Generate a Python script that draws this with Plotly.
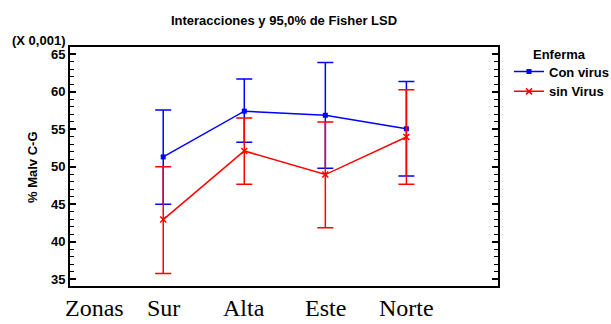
import plotly.graph_objects as go

zones = ["Sur", "Alta", "Este", "Norte"]
axis_name = "Zonas"
con_mean = [51.3, 57.4, 56.85, 55.05]
con_upper = [57.55, 61.7, 63.9, 61.35]
con_lower = [45.0, 53.25, 49.8, 48.75]
sin_mean = [42.95, 52.1, 48.95, 53.95]
sin_upper = [50.0, 56.5, 55.95, 60.25]
sin_lower = [35.75, 47.65, 41.85, 47.65]
yticks = [35, 40, 45, 50, 55, 60, 65]

xpos = list(range(len(zones)))

def err(mean, up, lo):
    return dict(type="data", symmetric=False,
                array=[u - m for u, m in zip(up, mean)],
                arrayminus=[m - l for m, l in zip(mean, lo)])

fig = go.Figure()
fig.add_trace(go.Scatter(
    x=xpos, y=con_mean, name="Con virus", mode="lines+markers",
    line=dict(color="#0000FF", width=1.5),
    marker=dict(symbol="square", size=5, color="#0000FF"),
    error_y=dict(**err(con_mean, con_upper, con_lower), color="#0000FF", thickness=1.5, width=8),
))
fig.add_trace(go.Scatter(
    x=xpos, y=sin_mean, name="sin Virus", mode="lines+markers",
    line=dict(color="#FF0000", width=1.5),
    marker=dict(symbol="x-thin", size=6, color="#FF0000", line=dict(color="#FF0000", width=1.5)),
    error_y=dict(**err(sin_mean, sin_upper, sin_lower), color="#FF0000", thickness=1.5, width=8),
))

W, H = 611, 324
L, R, T, B = 70, 113, 47, 38
pw = W - L - R
ph = H - T - B

def px(xp):
    return (xp - L) / pw

def py(yp):
    return (H - B - yp) / ph

SANS = "Liberation Sans, Arial, Helvetica"
SERIF = "Liberation Serif, Times New Roman"

annotations = [
    dict(text="(X 0,001)", x=px(10), y=py(40), xref="paper", yref="paper",
         xanchor="left", yanchor="middle", showarrow=False,
         font=dict(family=SANS, size=13, color="black", weight="bold")),
    dict(text="% Malv C-G", x=px(32), y=py(167), xref="paper", yref="paper",
         xanchor="center", yanchor="middle", showarrow=False, textangle=-90,
         font=dict(family=SANS, size=13, color="black", weight="bold")),
    dict(text="Enferma", x=px(531), y=py(55), xref="paper", yref="paper",
         xanchor="left", yanchor="middle", showarrow=False,
         font=dict(family=SANS, size=13, color="black", weight="bold")),
    dict(text=axis_name, x=px(94.5), y=py(308), xref="paper", yref="paper",
         xanchor="center", yanchor="middle", showarrow=False,
         font=dict(family=SERIF, size=24, color="black")),
]
for lbl, xv in zip(zones, xpos):
    annotations.append(dict(text=lbl, x=xv, y=py(308), xref="x", yref="paper",
                            xanchor="center", yanchor="middle", showarrow=False,
                            font=dict(family=SERIF, size=24, color="black")))

fig.update_layout(
    width=W, height=H,
    margin=dict(l=L, r=R, t=T, b=B, autoexpand=False),
    paper_bgcolor="white", plot_bgcolor="white",
    title=dict(text="<b>Interacciones y 95,0% de Fisher LSD</b>", x=0.5, xref="paper", xanchor="center",
               y=1 - 20 / H, yanchor="middle",
               font=dict(family=SANS, size=13, color="black")),
    xaxis=dict(range=[-1.15, 4.13], showgrid=False, zeroline=False, showticklabels=False,
               ticks="", showline=True, linecolor="black", linewidth=2, mirror=True),
    yaxis=dict(range=[34.1, 65.95], tickvals=yticks, showgrid=False, zeroline=False,
               ticks="inside", ticklen=6, tickwidth=1.5, tickcolor="black",
               showline=True, linecolor="black", linewidth=2, mirror="ticks",
               minor=dict(ticks="inside", dtick=1, ticklen=4, tickwidth=1, tickcolor="black"),
               tickfont=dict(family=SANS, size=13, color="black", weight="bold")),
    legend=dict(x=px(509), y=py(56.5), xanchor="left", yanchor="top",
                font=dict(family=SANS, size=13, color="black", weight="bold"),
                itemwidth=30, tracegroupgap=0, bgcolor="rgba(0,0,0,0)"),
    annotations=annotations,
)

fig.write_html("out.html", config={"displayModeBar": False},
               post_script="document.body.style.margin='0';document.body.style.overflow='hidden';")
